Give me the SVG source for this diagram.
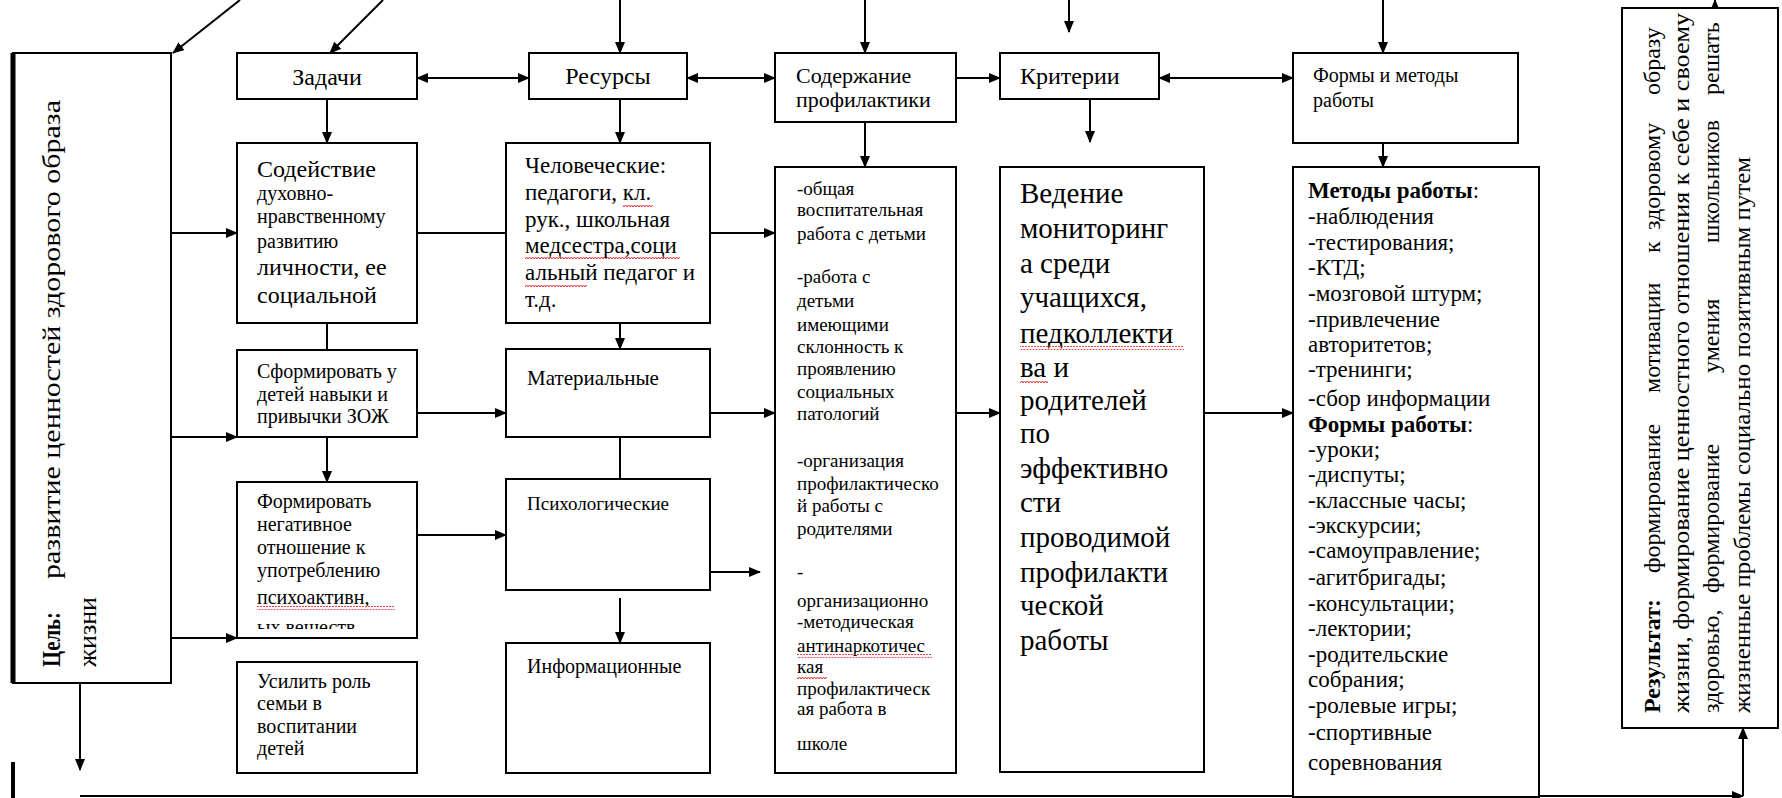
<svg xmlns="http://www.w3.org/2000/svg" width="1782" height="798" viewBox="0 0 1782 798" font-family="'Liberation Serif', serif">
<defs>
  <marker id="ah" markerWidth="12" markerHeight="10" refX="11" refY="5" orient="auto-start-reverse" markerUnits="userSpaceOnUse"><path d="M0,0 L12,5 L0,10 z" fill="#000"/></marker>
  <pattern id="wv" width="6" height="4" patternUnits="userSpaceOnUse"><path d="M0,3 L1.5,1 L3,3 L4.5,1 L6,3" fill="none" stroke="#e03030" stroke-width="1"/></pattern>
  <clipPath id="c3"><rect x="239" y="484" width="176" height="145"/></clipPath>
</defs>
<style>
  .b{fill:#fff;stroke:#000;stroke-width:2}
  .c{fill:none;stroke:#000;stroke-width:2}
  .a{marker-end:url(#ah)}
  .d{marker-start:url(#ah);marker-end:url(#ah)}
  text{fill:#000}
  .s{font-family:'Liberation Serif',serif}
  .w{fill:url(#wv)}
  .bd{font-weight:bold}
</style>
<rect width="1782" height="798" fill="#fff"/>

<g id="connectors">
  <path class="c a" d="M240,0 L173,53"/>
  <path class="c a" d="M383,0 L330,53"/>
  <path class="c a" d="M620,0 V53"/>
  <path class="c a" d="M865,0 V53"/>
  <path class="c a" d="M1069,0 V32"/>
  <path class="c a" d="M1383,0 V53"/>
  <path class="c a" d="M1715,12 V0"/>
  <path class="c d" d="M417,78 H529"/>
  <path class="c d" d="M687,78 H775"/>
  <path class="c a" d="M956,78 H1000"/>
  <path class="c d" d="M1159,78 H1293"/>
  <path class="c a" d="M327,99 V143"/>
  <path class="c" d="M327,323 V350"/>
  <path class="c a" d="M327,437 V482"/>
  <path class="c a" d="M620,99 V143"/>
  <path class="c a" d="M620,323 V349"/>
  <path class="c a" d="M620,437 V500"/>
  <path class="c a" d="M620,598 V643"/>
  <path class="c a" d="M865,122 V167"/>
  <path class="c a" d="M1090,99 V142"/>
  <path class="c a" d="M1383,143 V167"/>
  <path class="c a" d="M171,233 H237"/>
  <path class="c a" d="M171,437 H237"/>
  <path class="c a" d="M171,638 H237"/>
  <path class="c a" d="M80,683 V770"/>
  <path class="c" d="M417,233 H506"/>
  <path class="c a" d="M710,233 H775"/>
  <path class="c a" d="M417,413 H506"/>
  <path class="c a" d="M710,413 H775"/>
  <path class="c a" d="M417,535 H506"/>
  <path class="c a" d="M710,572 H760"/>
  <path class="c a" d="M956,413 H1000"/>
  <path class="c a" d="M1204,413 H1293"/>
  <path class="c a" d="M80,796 H1743"/>
  <path class="c a" d="M1743,796 V728"/>
  <path d="M13,762 V798" stroke="#000" stroke-width="4"/>
</g>

<g id="goal">
  <rect class="b" x="13" y="53" width="158" height="630"/>
  <path d="M13,53 V683" stroke="#000" stroke-width="5"/>
  <text class="s bd" transform="translate(60,667) rotate(-90)" font-size="26" textLength="55" lengthAdjust="spacingAndGlyphs">Цель:</text>
  <text class="s" transform="translate(60,667) rotate(-90)" x="88" font-size="26" textLength="479" lengthAdjust="spacingAndGlyphs">развитие ценностей здорового образа</text>
  <text class="s" transform="translate(96,667) rotate(-90)" font-size="26">жизни</text>
</g>

<g id="tasks">
  <rect class="b" x="237" y="53" width="180" height="46"/>
  <text class="s" x="327" y="85" text-anchor="middle" font-size="24">Задачи</text>
</g>
<g id="task1">
  <rect class="b" x="237" y="143" width="180" height="180"/>
  <text class="s" font-size="24" x="257" y="177">Содействие</text>
  <text class="s" font-size="20"><tspan x="257" y="200">духовно-</tspan><tspan x="257" y="223">нравственному</tspan><tspan x="257" y="248">развитию</tspan></text>
  <text class="s" font-size="24"><tspan x="257" y="275">личности, ее</tspan><tspan x="257" y="303">социальной</tspan></text>
</g>
<g id="task2">
  <rect class="b" x="237" y="350" width="180" height="87"/>
  <text class="s" font-size="20"><tspan x="257" y="378">Сформировать у</tspan><tspan x="257" y="401">детей навыки и</tspan><tspan x="257" y="423">привычки ЗОЖ</tspan></text>
</g>
<g id="task3">
  <rect class="b" x="237" y="482" width="180" height="156"/>
  <g clip-path="url(#c3)">
    <text class="s" font-size="20"><tspan x="257" y="508">Формировать</tspan><tspan x="257" y="531">негативное</tspan><tspan x="257" y="554">отношение к</tspan><tspan x="257" y="577">употреблению</tspan><tspan x="257" y="604">психоактивн,</tspan><tspan x="257" y="634">ых веществ</tspan></text>
  </g>
  <rect class="w" x="257" y="606" width="138" height="4"/>
</g>
<g id="task4">
  <rect class="b" x="237" y="662" width="180" height="111"/>
  <text class="s" font-size="20"><tspan x="257" y="688">Усилить роль</tspan><tspan x="257" y="710">семьи в</tspan><tspan x="257" y="733">воспитании</tspan><tspan x="257" y="755">детей</tspan></text>
</g>

<g id="resources">
  <rect class="b" x="529" y="53" width="158" height="46"/>
  <text class="s" x="608" y="84" text-anchor="middle" font-size="24">Ресурсы</text>
</g>
<g id="res1">
  <rect class="b" x="506" y="143" width="204" height="180"/>
  <text class="s" font-size="23"><tspan x="525" y="173">Человеческие:</tspan><tspan x="525" y="200">педагоги, кл.</tspan><tspan x="525" y="227">рук., школьная</tspan><tspan x="525" y="253">медсестра,соци</tspan><tspan x="525" y="280">альный педагог и</tspan><tspan x="525" y="307">т.д.</tspan></text>
  <rect class="w" x="623" y="204" width="30" height="4"/>
  <rect class="w" x="525" y="256" width="155" height="4"/>
  <rect class="w" x="525" y="284" width="62" height="4"/>
</g>
<g id="res2">
  <rect class="b" x="506" y="349" width="204" height="88"/>
  <text class="s" x="527" y="385" font-size="21">Материальные</text>
</g>
<g id="res3">
  <rect class="b" x="506" y="479" width="204" height="111"/>
  <text class="s" x="527" y="510" font-size="19">Психологические</text>
</g>
<g id="res4">
  <rect class="b" x="506" y="643" width="204" height="130"/>
  <text class="s" x="527" y="673" font-size="20">Информационные</text>
</g>

<g id="content-head">
  <rect class="b" x="775" y="53" width="181" height="69"/>
  <text class="s" font-size="22"><tspan x="796" y="83">Содержание</tspan><tspan x="796" y="107">профилактики</tspan></text>
</g>
<g id="content">
  <rect class="b" x="775" y="167" width="181" height="606"/>
  <text class="s" font-size="19"><tspan x="797" y="195">-общая</tspan><tspan x="797" y="216">воспитательная</tspan><tspan x="797" y="240">работа с детьми</tspan><tspan x="797" y="283">-работа с</tspan><tspan x="797" y="307">детьми</tspan><tspan x="797" y="331">имеющими</tspan><tspan x="797" y="353">склонность к</tspan><tspan x="797" y="375">проявлению</tspan><tspan x="797" y="398">социальных</tspan><tspan x="797" y="420">патологий</tspan><tspan x="797" y="467">-организация</tspan><tspan x="797" y="490">профилактическо</tspan><tspan x="797" y="512">й работы с</tspan><tspan x="797" y="535">родителями</tspan><tspan x="797" y="578">-</tspan><tspan x="797" y="607">организационно</tspan><tspan x="797" y="628">-методическая</tspan><tspan x="797" y="652">антинаркотичес</tspan><tspan x="797" y="673">кая</tspan><tspan x="797" y="695">профилактическ</tspan><tspan x="797" y="715">ая работа в</tspan><tspan x="797" y="750">школе</tspan></text>
  <rect class="w" x="797" y="654" width="135" height="4"/>
  <rect class="w" x="797" y="675" width="30" height="4"/>
</g>

<g id="criteria">
  <rect class="b" x="1000" y="53" width="159" height="46"/>
  <text class="s" x="1020" y="84" font-size="24">Критерии</text>
</g>
<g id="monitoring">
  <rect class="b" x="1000" y="167" width="204" height="605"/>
  <text class="s" font-size="29"><tspan x="1020" y="203">Ведение</tspan><tspan x="1020" y="238">мониторинг</tspan><tspan x="1020" y="273">а среди</tspan><tspan x="1020" y="307">учащихся,</tspan><tspan x="1020" y="343">педколлекти</tspan><tspan x="1020" y="377">ва и</tspan><tspan x="1020" y="410">родителей</tspan><tspan x="1020" y="443">по</tspan><tspan x="1020" y="478">эффективно</tspan><tspan x="1020" y="512">сти</tspan><tspan x="1020" y="547">проводимой</tspan><tspan x="1020" y="582">профилакти</tspan><tspan x="1020" y="615">ческой</tspan><tspan x="1020" y="650">работы</tspan></text>
  <rect class="w" x="1020" y="346" width="164" height="4"/>
  <rect class="w" x="1020" y="380" width="28" height="4"/>
</g>

<g id="forms-head">
  <rect class="b" x="1293" y="53" width="225" height="90"/>
  <text class="s" font-size="20"><tspan x="1313" y="82">Формы и методы</tspan><tspan x="1313" y="107">работы</tspan></text>
</g>
<g id="methods">
  <rect class="b" x="1293" y="167" width="246" height="630"/>
  <text class="s" font-size="23"><tspan x="1308" y="198" class="bd">Методы работы</tspan><tspan>:</tspan><tspan x="1308" y="224">-наблюдения</tspan><tspan x="1308" y="250">-тестирования;</tspan><tspan x="1308" y="275">-КТД;</tspan><tspan x="1308" y="301">-мозговой штурм;</tspan><tspan x="1308" y="327">-привлечение</tspan><tspan x="1308" y="352">авторитетов;</tspan><tspan x="1308" y="377">-тренинги;</tspan><tspan x="1308" y="406">-сбор информации</tspan><tspan x="1308" y="432" class="bd">Формы работы</tspan><tspan>:</tspan><tspan x="1308" y="457">-уроки;</tspan><tspan x="1308" y="482">-диспуты;</tspan><tspan x="1308" y="508">-классные часы;</tspan><tspan x="1308" y="533">-экскурсии;</tspan><tspan x="1308" y="558">-самоуправление;</tspan><tspan x="1308" y="585">-агитбригады;</tspan><tspan x="1308" y="611">-консультации;</tspan><tspan x="1308" y="636">-лектории;</tspan><tspan x="1308" y="662">-родительские</tspan><tspan x="1308" y="687">собрания;</tspan><tspan x="1308" y="713">-ролевые игры;</tspan><tspan x="1308" y="740">-спортивные</tspan><tspan x="1308" y="770">соревнования</tspan></text>
</g>

<g id="result">
  <rect class="b" x="1622" y="8" width="156" height="720"/>
  <text class="s" transform="translate(1660,713) rotate(-90)" font-size="24"><tspan x="0" class="bd">Результат:</tspan><tspan x="140">формирование</tspan><tspan x="320">мотивации</tspan><tspan x="460">к</tspan><tspan x="483">здоровому</tspan><tspan x="618">образу</tspan></text>
  <text class="s" transform="translate(1689,713) rotate(-90)" font-size="24" textLength="700" lengthAdjust="spacingAndGlyphs">жизни, формирование ценностного отношения к себе и своему</text>
  <text class="s" transform="translate(1719,713) rotate(-90)" font-size="24"><tspan x="0">здоровью,</tspan><tspan x="120">формирование</tspan><tspan x="340">умения</tspan><tspan x="470">школьников</tspan><tspan x="618">решать</tspan></text>
  <text class="s" transform="translate(1750,713) rotate(-90)" font-size="24" textLength="556" lengthAdjust="spacingAndGlyphs">жизненные проблемы социально позитивным путем</text>
</g>
</svg>
